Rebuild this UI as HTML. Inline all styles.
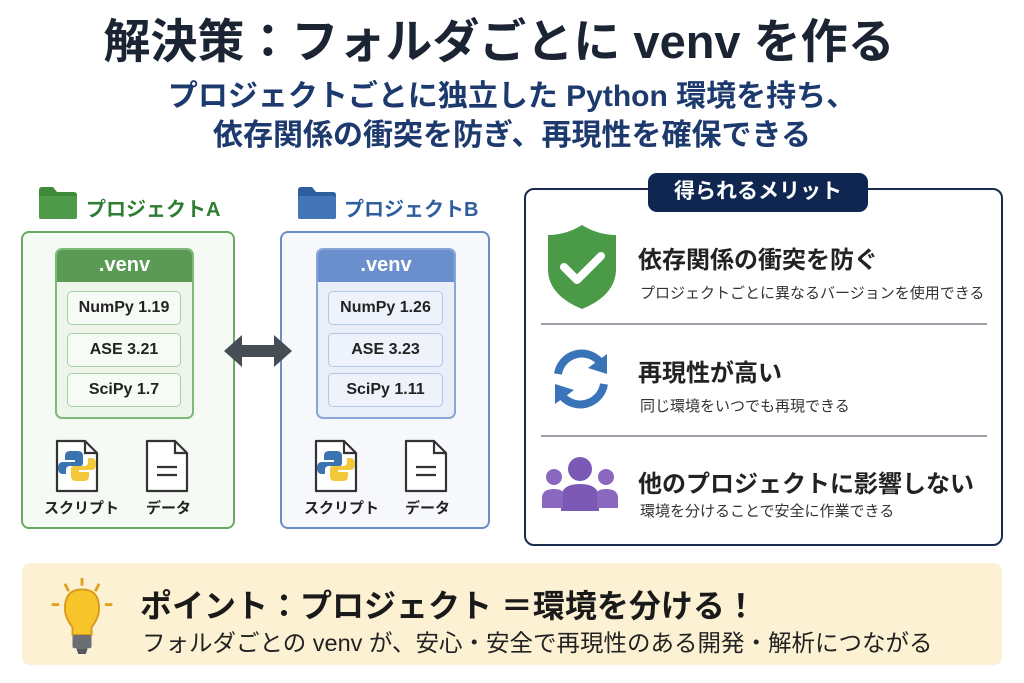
<!DOCTYPE html>
<html><head><meta charset="utf-8"><style>
*{margin:0;padding:0;box-sizing:border-box}
body{width:1024px;height:683px;background:#fff;position:relative;overflow:hidden;font-family:"Liberation Sans","Noto Sans CJK JP",sans-serif}
.a{position:absolute}
.t{white-space:nowrap}
.c{text-align:center}
.item{position:absolute;height:34px;border-radius:5px;font-size:16px;font-weight:bold;color:#222;text-align:center;line-height:32px}
</style></head><body>
<div class="a t c" style="left:0;width:998px;top:12px;font-size:47px;font-weight:bold;color:#1b2433;line-height:60px">解決策：フォルダごとに venv を作る</div>
<div class="a t c" style="left:0;width:1024px;top:77px;font-size:30px;font-weight:bold;color:#1d3a6e;line-height:39px">プロジェクトごとに独立した Python 環境を持ち、<br>依存関係の衝突を防ぎ、再現性を確保できる</div>

<!-- Project A -->
<svg class="a" style="left:38px;top:186px" width="40" height="34"><path d="M1 4 Q1 1 4 1 H15 L19 6 H36 Q39 6 39 9 V31 Q39 33 36 33 H4 Q1 33 1 31Z" fill="#3d8a3a"/><rect x="1" y="10" width="38" height="23" rx="2" fill="#4f9a4a"/></svg>
<div class="a t" style="left:86px;top:193px;font-size:20px;font-weight:bold;color:#2e7d32">プロジェクトA</div>
<div class="a" style="left:21px;top:231px;width:214px;height:298px;border:2px solid #6aa866;border-radius:8px;background:#f6faf5"></div>
<div class="a" style="left:55px;top:248px;width:139px;height:171px;border:2px solid #7fb97a;border-radius:7px;background:#eef6ec;overflow:hidden"><div style="height:32px;background:#5a9a55;color:#fff;font-size:20px;font-weight:bold;text-align:center;line-height:30px">.venv</div></div>
<div class="item" style="left:67px;top:291px;width:114px;border:1.5px solid #a6d1a2;background:#f7fbf6">NumPy 1.19</div>
<div class="item" style="left:67px;top:333px;width:114px;border:1.5px solid #a6d1a2;background:#f7fbf6">ASE 3.21</div>
<div class="item" style="left:67px;top:373px;width:114px;border:1.5px solid #a6d1a2;background:#f7fbf6">SciPy 1.7</div>

<!-- Project B -->
<svg class="a" style="left:297px;top:186px" width="40" height="34"><path d="M1 4 Q1 1 4 1 H15 L19 6 H36 Q39 6 39 9 V31 Q39 33 36 33 H4 Q1 33 1 31Z" fill="#2f5e9e"/><rect x="1" y="10" width="38" height="23" rx="2" fill="#4475b8"/></svg>
<div class="a t" style="left:344px;top:193px;font-size:20px;font-weight:bold;color:#2f5e9e">プロジェクトB</div>
<div class="a" style="left:280px;top:231px;width:210px;height:298px;border:2px solid #6b8fc4;border-radius:8px;background:#f6f8fc"></div>
<div class="a" style="left:316px;top:248px;width:140px;height:171px;border:2px solid #8aa6d6;border-radius:7px;background:#e8eff9;overflow:hidden"><div style="height:32px;background:#6a8fcc;color:#fff;font-size:20px;font-weight:bold;text-align:center;line-height:30px">.venv</div></div>
<div class="item" style="left:328px;top:291px;width:115px;border:1.5px solid #b3c7e8;background:#eef3fb">NumPy 1.26</div>
<div class="item" style="left:328px;top:333px;width:115px;border:1.5px solid #b3c7e8;background:#eef3fb">ASE 3.23</div>
<div class="item" style="left:328px;top:373px;width:115px;border:1.5px solid #b3c7e8;background:#eef3fb">SciPy 1.11</div>

<!-- arrow -->
<svg class="a" style="left:222px;top:333px" width="72" height="36"><path d="M2 18 L20 2 V12 H52 V2 L70 18 L52 34 V24 H20 V34Z" fill="#474d55"/></svg>

<!-- file icons -->
<svg width="0" height="0" style="position:absolute"><defs>
<g id="doc"><path d="M2 2 H30 L42 14 V52 H2Z" fill="#fff" stroke="#333" stroke-width="2.2" stroke-linejoin="round"/><path d="M30 2 V14 H42" fill="none" stroke="#333" stroke-width="2.2"/></g>
<g id="py"><path d="M21 12 h-6 q-5 0 -5 5 v4 h10 v2 h-12 q-5 0 -5 6 q0 6 5 6 h3 v-4 q0-4 4-4 h10 q3 0 3-3 v-7 q0-5-5-5z" fill="#3a74b0"/><path d="M23 42 h6 q5 0 5-5 v-4 h-10 v-2 h12 q5 0 5-6 q0-6-5-6 h-3 v4 q0 4-4 4 h-10 q-3 0-3 3 v7 q0 5 5 5z" fill="#f3c93b"/></g>
<g id="txt"><line x1="12" y1="28" x2="32" y2="28" stroke="#333" stroke-width="2.2"/><line x1="12" y1="36" x2="32" y2="36" stroke="#333" stroke-width="2.2"/></g>
</defs></svg>
<svg class="a" style="left:55px;top:439px" width="46" height="56"><use href="#doc"/><use href="#py"/></svg>
<svg class="a" style="left:145px;top:439px" width="46" height="56"><use href="#doc"/><use href="#txt"/></svg>
<svg class="a" style="left:314px;top:439px" width="46" height="56"><use href="#doc"/><use href="#py"/></svg>
<svg class="a" style="left:404px;top:439px" width="46" height="56"><use href="#doc"/><use href="#txt"/></svg>
<div class="a t" style="left:44px;top:497px;font-size:15px;font-weight:bold;color:#222">スクリプト</div>
<div class="a t" style="left:146px;top:497px;font-size:15px;font-weight:bold;color:#222">データ</div>
<div class="a t" style="left:304px;top:497px;font-size:15px;font-weight:bold;color:#222">スクリプト</div>
<div class="a t" style="left:405px;top:497px;font-size:15px;font-weight:bold;color:#222">データ</div>

<!-- merits -->
<div class="a" style="left:524px;top:188px;width:479px;height:358px;border:2px solid #1a2b4e;border-radius:10px;background:#fff"></div>
<div class="a t c" style="left:648px;top:173px;width:220px;height:39px;background:#0f2650;border-radius:9px;color:#fff;font-size:21px;font-weight:bold;line-height:38px">得られるメリット</div>

<svg class="a" style="left:546px;top:223px" width="72" height="88"><path d="M36 2 Q52 12 70 12 V46 Q70 72 36 86 Q2 72 2 46 V12 Q20 12 36 2Z" fill="#4a9a48"/><path d="M18 44 L31 57 L55 33" fill="none" stroke="#fff" stroke-width="8" stroke-linecap="round" stroke-linejoin="round"/></svg>
<div class="a t" style="left:638px;top:240px;font-size:24px;font-weight:bold;color:#222">依存関係の衝突を防ぐ</div>
<div class="a t" style="left:640px;top:282px;font-size:15px;color:#333">プロジェクトごとに異なるバージョンを使用できる</div>
<div class="a" style="left:541px;top:323px;width:446px;height:2px;background:#9aa0a6"></div>

<svg class="a" style="left:546px;top:344px" width="70" height="70"><path d="M12 30 A24 24 0 0 1 54 18" fill="none" stroke="#3a74b8" stroke-width="8"/><path d="M61 10 L61 30 L42 24Z" fill="#3a74b8"/><path d="M58 40 A24 24 0 0 1 16 52" fill="none" stroke="#3a74b8" stroke-width="8"/><path d="M9 60 L9 40 L28 46Z" fill="#3a74b8"/></svg>
<div class="a t" style="left:638px;top:353px;font-size:24px;font-weight:bold;color:#222">再現性が高い</div>
<div class="a t" style="left:640px;top:395px;font-size:15px;color:#333">同じ環境をいつでも再現できる</div>
<div class="a" style="left:541px;top:435px;width:446px;height:2px;background:#9aa0a6"></div>

<svg class="a" style="left:541px;top:456px" width="78" height="56"><circle cx="39" cy="13" r="12" fill="#7b59b5"/><path d="M20 55 V42 Q20 28 39 28 Q58 28 58 42 V55Z" fill="#7b59b5"/><circle cx="13" cy="21" r="8" fill="#8b68c0"/><path d="M1 52 V42 Q1 33 13 33 Q22 33 22 38 V52Z" fill="#8b68c0"/><circle cx="65" cy="21" r="8" fill="#8b68c0"/><path d="M77 52 V42 Q77 33 65 33 Q56 33 56 38 V52Z" fill="#8b68c0"/></svg>
<div class="a t" style="left:638px;top:464px;font-size:24px;font-weight:bold;color:#222">他のプロジェクトに影響しない</div>
<div class="a t" style="left:640px;top:500px;font-size:15px;color:#333">環境を分けることで安全に作業できる</div>

<!-- point -->
<div class="a" style="left:22px;top:563px;width:980px;height:102px;background:#fcf1d2;border-radius:8px"></div>
<svg class="a" style="left:44px;top:576px" width="76" height="80" viewBox="0 0 40 42"><g stroke="#e0a11f" stroke-width="1.5"><line x1="20" y1="1" x2="20" y2="5"/><line x1="11" y1="4" x2="13" y2="8"/><line x1="29" y1="4" x2="27" y2="8"/><line x1="4" y1="15" x2="8" y2="15"/><line x1="32" y1="15" x2="36" y2="15"/></g><path d="M20 7 Q29 7 29 17 Q29 22 25 27 V31 H15 V27 Q11 22 11 17 Q11 7 20 7Z" fill="#f7c52a" stroke="#d89a1a" stroke-width="1"/><rect x="15" y="31" width="10" height="7" rx="1" fill="#6b6f75"/><path d="M17 38 H23 L22 41 H18Z" fill="#55595e"/></svg>
<div class="a t" style="left:140px;top:581px;font-size:32px;font-weight:bold;color:#1a1a1a">ポイント：プロジェクト ＝環境を分ける！</div>
<div class="a t" style="left:142px;top:624px;font-size:23.5px;color:#222">フォルダごとの venv が、安心・安全で再現性のある開発・解析につながる</div>
</body></html>
